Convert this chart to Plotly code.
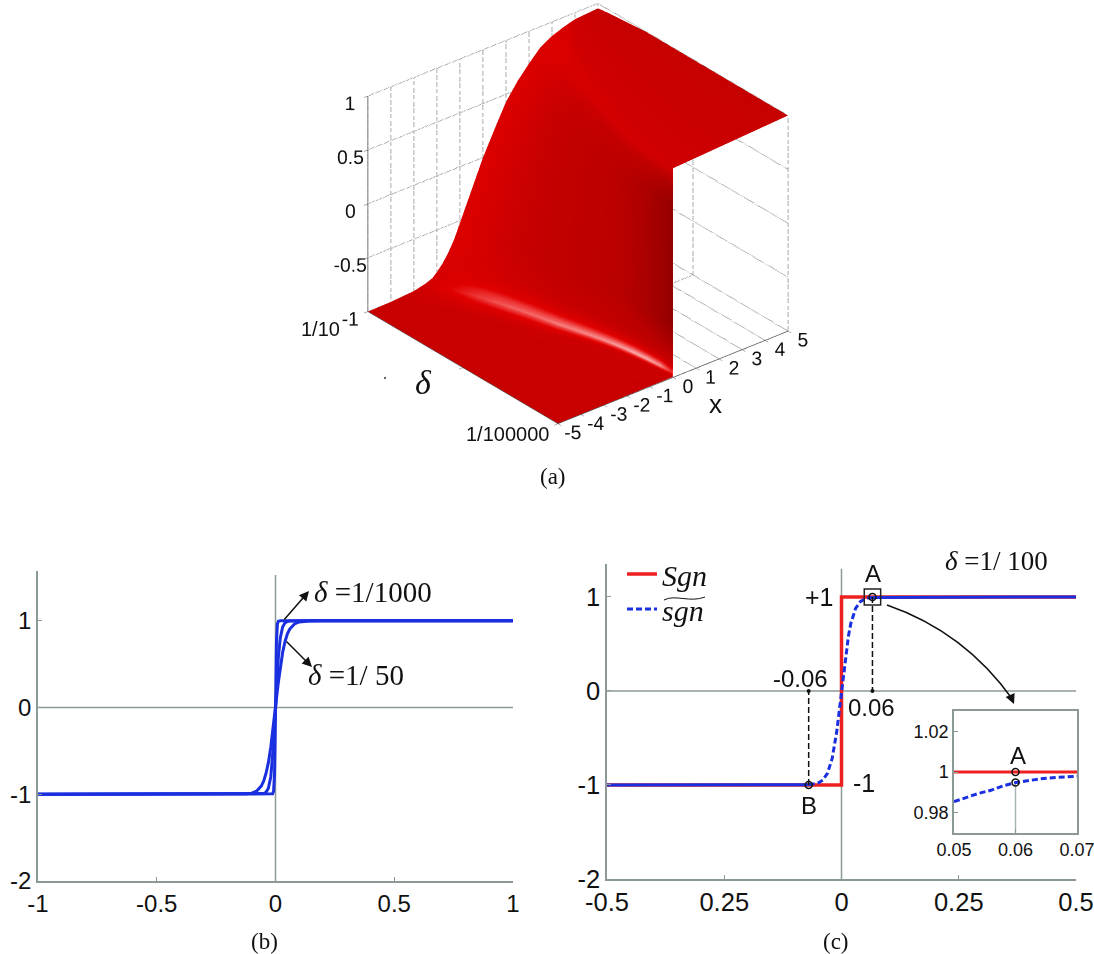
import numpy as np
import plotly.graph_objects as go

W, H = 1094, 954
def px(X): return X / W
def py(Y): return 1 - Y / H

# ---------- panel (a): surface ----------
edge_x = [-4.95,-4,-3,-2.5,-2.2,-2,-1.75,-1.5,-1.25,-1,-.5,0,.5,1,1.5,2,2.5,3,3.5,4,4.95]
edge_z = [-1,-.995,-.98,-.955,-.93,-.89,-.83,-.75,-.65,-.52,-.26,0,.22,.43,.58,.70,.81,.87,.91,.94,.97]
log_delta = [-1,-1.25,-1.5,-1.75,-2,-2.25,-2.5,-2.75,-3,-3.25,-3.5,-3.75,-4,-4.25,-4.5,-4.75,-5]
width_by_delta = [1,.88,.77,.68,.6,.53,.46,.40,.34,.27,.2,.14,.09,.055,.03,.012,.002]
top_by_delta = [.955,.97,.98,.99,1,1,1,1,1,1,1,1,1,1,1,1,1]
col_base = [.60,.60,.60,.62,.64,.66,.68,.70,.72,.72,.70,.68,.68,.69,.70,.71,.72,.73,.70,.65,.58]
col_cliff = [0,0,0,0,.1,.2,.4,.6,.8,1,1,1,1,1,1,.85,.6,.3,.1,0,0]
col_band = [0,.05,.5,1,.8,.4,.12,0,0,0,0,0,0,0,0,0,0,0,0,0,0]
row_cliff = [.72,.70,.67,.64,.60,.57,.54,.52,.50,.48,.46,.43,.39,.34,.28,.2,.12]
row_band = [.1,.3,.45,.58,.66,.7,.72,.74,.78,.8,.82,.85,.88,.92,.92,.85,.5]
x_ticks = [-5,-4,-3,-2,-1,0,1,2,3,4,5]
x_labels = ["-5","-4","-3","-2","-1","0","1","2","3","4","5"]
z_ticks = [-1,-.5,0,.5,1]
z_labels = ["-1","-0.5","0","0.5","1"]
delta_ticks = [-1,-3,-5]

# ---------- panel (b) ----------
bx = [-1,-.2,-.14,-.12,-.1,-.08,-.06,-.05,-.04,-.03,-.02,-.012,-.008,-.004,-.002,0,.002,.004,.008,.012,.02,.03,.04,.05,.06,.08,.1,.12,.14,.2,1]
by_50 = [-1,-1,-.998,-.995,-.987,-.964,-.905,-.85,-.76,-.635,-.46,-.29,-.2,-.1,-.05,0,.05,.1,.2,.29,.46,.635,.76,.85,.905,.964,.987,.995,.998,1,1]
by_mid = [-1,-1,-1,-1,-1,-1,-.997,-.992,-.977,-.93,-.8,-.58,-.42,-.22,-.11,0,.11,.22,.42,.58,.8,.93,.977,.992,.997,1,1,1,1,1,1]
by_1000 = [-1,-1,-1,-1,-1,-1,-1,-1,-1,-1,-1,-.995,-.964,-.76,-.46,0,.46,.76,.964,.995,1,1,1,1,1,1,1,1,1,1,1]

# ---------- panel (c) ----------
sgn_x = [-.5,0,0,.5]
sgn_y = [-1,-1,1,1]
cx = [-.07,-.06,-.05,-.04,-.03,-.02,-.015,-.01,-.005,0,.005,.01,.015,.02,.03,.04,.05,.06,.066]
cy = [-.997,-.992,-.979,-.949,-.877,-.72,-.59,-.43,-.22,0,.22,.43,.59,.72,.877,.949,.979,.992,.995]
flat_left_x = [-.5,-.07]; flat_left_y = [-1,-.997]
flat_right_x = [.066,.5]; flat_right_y = [.995,1]
inset_x = [.05,.052,.054,.056,.058,.06,.062,.064,.066,.068,.07]
inset_y = [.9854,.9875,.9895,.991,.9932,.9948,.9958,.9966,.9972,.9976,.9979]
point_a = .066; point_b = -.07

GREY = "#8b9a97"; BLUE = "#1a2fe0"; RED = "#ee2020"

fig = go.Figure()

# surface ------------------------------------------------
X, Y, Z, C = [], [], [], []
for i, ld in enumerate(log_delta):
    f = width_by_delta[i]
    xs = [-5] + [e * f for e in edge_x[1:-1]] + [5]
    zs = [-1] + list(edge_z[1:-1]) + [top_by_delta[i]]
    shade = []
    for j in range(len(edge_x)):
        s = col_base[j] * (1 - col_cliff[j]) + row_cliff[i] * col_cliff[j]
        s = s + (1 - s) * col_band[j] * row_band[i]
        shade.append(s)
    X.append(xs); Y.append([ld] * len(xs)); Z.append(zs); C.append(shade)

fig.add_trace(go.Surface(
    x=X, y=Y, z=Z, surfacecolor=C, cmin=0, cmax=1, showscale=False,
    colorscale=[[0, "#860000"], [.4, "#b80000"], [.6, "#c80000"], [.75, "#e00000"], [.85, "#f04040"], [1, "#ffc8c8"]],
    lighting=dict(ambient=1, diffuse=0, specular=0, roughness=1, fresnel=0),
    hoverinfo="skip", name="surface"))

def grid(xs, ys, zs):
    fig.add_trace(go.Scatter3d(x=xs, y=ys, z=zs, mode="lines", showlegend=False, hoverinfo="skip",
                               line=dict(color="#555555", width=2, dash="dot")))
for t in x_ticks:
    grid([t, t], [-1, -1], [-1, 1])
    if t > 0:
        grid([t, t], [-1, -5], [-1, -1])
for t in z_ticks:
    grid([-5, 5], [-1, -1], [t, t])
    grid([5, 5], [-1, -5], [t, t])
for t in delta_ticks:
    grid([5, 5], [t, t], [-1, 1])
    grid([0, 5], [t, t], [-1, -1])

ax3 = dict(showbackground=False, showgrid=False, zeroline=False, showspikes=False,
           showline=True, linecolor="#555555", linewidth=1.5, ticks="outside", ticklen=5,
           tickcolor="#555555", tickangle=0, tickfont=dict(family="Liberation Sans", size=15.2, color="#111111"))
ZOOM = 1.3415
fig.update_layout(scene=dict(
    domain=dict(x=[px(277.5), px(877.5)], y=[py(445), py(0)]),
    xaxis=dict(ax3, range=[-5, 5], tickvals=x_ticks, ticktext=x_labels, title=dict(text="")),
    yaxis=dict(ax3, range=[-5, -1], tickvals=delta_ticks, ticktext=["", "", ""], title=dict(text="")),
    zaxis=dict(ax3, range=[-1, 1], tickvals=z_ticks, ticktext=z_labels, title=dict(text="")),
    aspectmode="manual", aspectratio=dict(x=ZOOM, y=ZOOM, z=.827 * ZOOM),
    camera=dict(projection=dict(type="orthographic"), up=dict(x=0, y=0, z=1),
                eye=dict(x=-.5626 * 2, y=-.681 * 2, z=.47 * 2), center=dict(x=0, y=0, z=-.046))))

# panel b ------------------------------------------------
AX = dict(showgrid=False, zeroline=False, showline=True, linecolor=GREY, linewidth=1.5,
          ticks="inside", ticklen=4, tickcolor=GREY,
          tickfont=dict(family="Liberation Sans", size=24, color="#111111"))
AX2 = dict(AX, tickfont=dict(family="Liberation Sans", size=25.5, color="#111111"))
fig.update_layout(
    xaxis=dict(AX, domain=[px(38), px(513)], range=[-1, 1], tickvals=[-1, -.5, 0, .5, 1],
               ticktext=["-1", "-0.5", "0", "0.5", "1"], anchor="y"),
    yaxis=dict(AX, domain=[py(881), py(571)], range=[-2, 1.575], tickvals=[-2, -1, 0, 1],
               ticktext=["-2", "-1", "0", "1"], anchor="x"),
    xaxis2=dict(AX2, domain=[px(607), px(1076)], range=[-.5, .5], tickvals=[-.5, -.25, 0, .25, .5],
                ticktext=["-0.5", "0.25", "0", "0.25", "0.5"], anchor="y2"),
    yaxis2=dict(AX2, domain=[py(879), py(564)], range=[-2, 1.35], tickvals=[-2, -1, 0, 1],
                ticktext=["-2", "-1", "0", "1"], anchor="x2"),
    xaxis3=dict(AX, domain=[px(954), px(1077)], range=[.05, .07], tickvals=[.05, .06, .07],
                ticktext=["0.05", "0.06", "0.07"], anchor="y3", mirror=True, ticklabeloverflow="allow",
                tickfont=dict(family="Liberation Sans", size=18, color="#111111")),
    yaxis3=dict(AX, domain=[py(833), py(711)], range=[.97, 1.03], tickvals=[.98, 1, 1.02],
                ticktext=["0.98", "1", "1.02"], anchor="x3", mirror=True,
                tickfont=dict(family="Liberation Sans", size=18, color="#111111")),
)

def ref(x, y, a, b, **kw):
    fig.add_trace(go.Scatter(x=x, y=y, xaxis=a, yaxis=b, mode=kw.pop("mode", "lines"),
                             showlegend=kw.pop("showlegend", False), hoverinfo="skip", **kw))

ref([-1, 1], [0, 0], "x", "y", line=dict(color=GREY, width=1.5))
ref([0, 0], [-2, 1.53], "x", "y", line=dict(color=GREY, width=1.5))
for yy in [by_50, by_mid, by_1000]:
    ref(bx, yy, "x", "y", line=dict(color=BLUE, width=3))

# panel c ------------------------------------------------
ref([-.5, .5], [0, 0], "x2", "y2", line=dict(color=GREY, width=1.5))
ref([0, 0], [-2, 1.3], "x2", "y2", line=dict(color=GREY, width=1.5))
ref(sgn_x, sgn_y, "x2", "y2", line=dict(color=RED, width=3.5), name="<i>Sgn</i>", showlegend=True)
ref(flat_left_x, flat_left_y, "x2", "y2", line=dict(color=BLUE, width=3))
ref(flat_right_x, flat_right_y, "x2", "y2", line=dict(color=BLUE, width=3))
ref(cx, cy, "x2", "y2", line=dict(color=BLUE, width=3, dash="6px,3px"), name="<i>sgn</i>", showlegend=True, legend="legend2")
ref([point_a, point_a], [1, 0], "x2", "y2", line=dict(color="#111111", width=1.5, dash="6px,3px"))
ref([point_b, point_b], [-1, 0], "x2", "y2", line=dict(color="#111111", width=1.5, dash="6px,3px"))
ref([point_a, point_b], [0, 0], "x2", "y2", mode="markers", marker=dict(color="#111111", size=4))
ref([point_a, point_b], [1, -1], "x2", "y2", mode="markers",
    marker=dict(color="rgba(0,0,0,0)", size=7, line=dict(color="#111111", width=1.5)))
fig.add_shape(type="rect", xref="x2", yref="y2", x0=point_a - .0175, x1=point_a + .0175, y0=.915, y1=1.085,
              line=dict(color="#222222", width=1.5))

# inset --------------------------------------------------
ref([.06, .06], [.97, .9948], "x3", "y3", line=dict(color="#a8b4b0", width=1.5))
ref([.05, .07], [1, 1], "x3", "y3", line=dict(color=RED, width=3))
ref(inset_x, inset_y, "x3", "y3", line=dict(color=BLUE, width=3, dash="6px,3px"))
ref([.06, .06], [1, .9948], "x3", "y3", mode="markers",
    marker=dict(color="rgba(0,0,0,0)", size=7, line=dict(color="#111111", width=1.5)))

# curved arrow -------------------------------------------
fig.add_shape(type="path", xref="paper", yref="paper",
              path=f"M {px(887)} {py(605)} Q {px(965)} {py(632)} {px(1013)} {py(700)}",
              line=dict(color="#111111", width=1.5))
# tilde over sgn
fig.add_shape(type="path", xref="paper", yref="paper",
              path=f"M {px(664)} {py(600)} C {px(675)} {py(594)} {px(690)} {py(603)} {px(705)} {py(597)}",
              line=dict(color="#111111", width=1))
# small speck left of the delta label in panel (a)
fig.add_shape(type="circle", xref="paper", yref="paper", x0=px(384), x1=px(386), y0=py(379), y1=py(377),
              fillcolor="#333333", line=dict(width=0))

# text ---------------------------------------------------
def text(X, Y, s, size=24, fam="Liberation Sans"):
    fig.add_annotation(x=px(X), y=py(Y), xref="paper", yref="paper", text=s, showarrow=False,
                       xanchor="center", yanchor="middle",
                       font=dict(family=fam, size=size, color="#111111"))
def arrow(X0, Y0, X1, Y1):
    fig.add_annotation(x=px(X1), y=py(Y1), xref="paper", yref="paper", text="", showarrow=True,
                       ax=X0 - X1, ay=Y0 - Y1, arrowhead=2, arrowsize=1.3, arrowwidth=1.5, arrowcolor="#111111")

SERIF = "Liberation Serif"
text(320, 329, "1/10", 20)
text(507.6, 434, "1/100000", 20)
text(423, 383, "<i>δ</i>", 34, SERIF)
text(715, 404, "x", 26)
text(553, 476, "(a)", 23, SERIF)
text(264, 941, "(b)", 23, SERIF)
text(836, 941, "(c)", 23, SERIF)
text(373, 592, "<i>δ</i> =1/1000", 29, SERIF)
text(356, 675, "<i>δ</i> =1/ 50", 29, SERIF)
text(996, 561, "<i>δ</i> =1/ 100", 27, SERIF)
arrow(283, 621, 309, 591)
arrow(285, 640, 312, 667)
arrow(1011, 697, 1014, 704)
text(873, 573, "A", 24)
text(809, 805, "B", 24)
text(819, 597, "+1", 25)
text(864, 783, "-1", 25)
text(800, 678, "-0.06", 24)
text(871, 707, "0.06", 24)
text(1018, 755, "A", 24)

LEG = dict(xanchor="left", yanchor="top", bgcolor="rgba(0,0,0,0)", itemwidth=30,
           font=dict(family=SERIF, size=30, color="#111111"))
fig.update_layout(
    width=W, height=H, autosize=False, margin=dict(l=0, r=0, t=0, b=0, autoexpand=False),
    paper_bgcolor="white", plot_bgcolor="rgba(0,0,0,0)",
    legend=dict(LEG, x=px(622), y=py(548)),
    legend2=dict(LEG, x=px(622), y=py(583)),
)
fig.write_html("out.html", config=dict(displayModeBar=False),
               post_script="document.body.style.margin='0';document.body.style.overflow='hidden';")
